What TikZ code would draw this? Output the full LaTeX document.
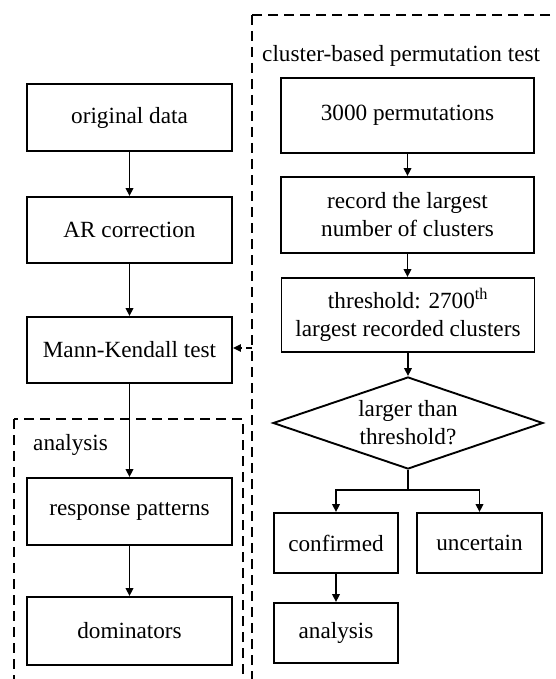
\documentclass[tikz,border=0pt]{standalone}
\usepackage{fontspec}
\setmainfont{Liberation Serif}
\usetikzlibrary{arrows.meta,shapes.geometric}

\begin{document}
\begin{tikzpicture}[x=1pt,y=-1pt,
  every node/.style={font=\fontsize{23.2}{28}\selectfont},
  box/.style={draw,line width=1.9pt,inner sep=0pt,align=center},
  dbox/.style={draw,line width=1.8pt,dash pattern=on 10pt off 6pt},
  arr/.style={line width=1.8pt,-{Triangle[length=8pt,width=7.5pt]}},
  darr/.style={line width=1.5pt,dash pattern=on 6pt off 4pt,-{Triangle[length=8pt,width=7.5pt]}}]
  \useasboundingbox (0,0) rectangle (556,679);
  \clip (0,0) rectangle (556,679);

  % dashed group frames (open towards the page edges)
  \draw[dbox] (252,15) rectangle (600,720);
  \draw[dbox] (14,419) rectangle (243,720);
  \node[anchor=base west,inner sep=0pt] (lblperm) at (262,62) {cluster-based permutation test};
  \node[anchor=base west,inner sep=0pt] (lblana) at (33,450) {analysis};

  % left column
  \node[box,minimum width=205pt,minimum height=67pt] (orig) at (129.5,117.5) {original data};
  \node[box,minimum width=205pt,minimum height=66pt] (ar)   at (129.5,230) {AR correction};
  \node[box,minimum width=205pt,minimum height=66pt] (mk)   at (129.5,350) {Mann-Kendall test};
  \node[box,minimum width=205pt,minimum height=67pt] (resp) at (129.5,511.5) {response patterns};
  \node[box,minimum width=205pt,minimum height=68pt] (dom)  at (129.5,631) {dominators};

  % right column
  \node[box,minimum width=253pt,minimum height=75pt] (perm) at (407.5,115.5) {3000 permutations};
  \node[box,minimum width=253pt,minimum height=76pt] (rec)  at (407.5,215) {record the largest\\number of clusters};
  \node[box,minimum width=253pt,minimum height=74pt] (thr)  at (408,315) {threshold: 2700\textsuperscript{th}\\largest recorded clusters};
  \node[box,diamond,aspect=2.93,minimum width=270pt,minimum height=92pt] (dia) at (408,423) {larger than\\threshold?};
  \node[box,minimum width=124pt,minimum height=60pt] (conf) at (336,543) {confirmed};
  \node[box,minimum width=125pt,minimum height=60pt] (unc)  at (479.5,543) {uncertain};
  \node[box,minimum width=124pt,minimum height=60pt] (ana)  at (336,633) {analysis};

  % connectors
  \draw[arr] (orig) -- (ar);
  \draw[arr] (ar) -- (mk);
  \draw[arr] (mk) -- (resp);
  \draw[arr] (resp) -- (dom);
  \draw[arr] (perm) -- (rec);
  \draw[arr] (rec) -- (thr.north -| rec.south);
  \draw[arr] (thr) -- (dia);
  \coordinate (split) at (408,490);
  \draw[line width=1.8pt] (dia.south) -- (split);
  \draw[arr] (split) -| (conf.north);
  \draw[arr] (split) -| (unc.north);
  \draw[arr] (conf) -- (ana);
  \coordinate (fb) at (252,348);
  \draw[darr] (fb) -- (fb -| mk.east);
\end{tikzpicture}
\end{document}
